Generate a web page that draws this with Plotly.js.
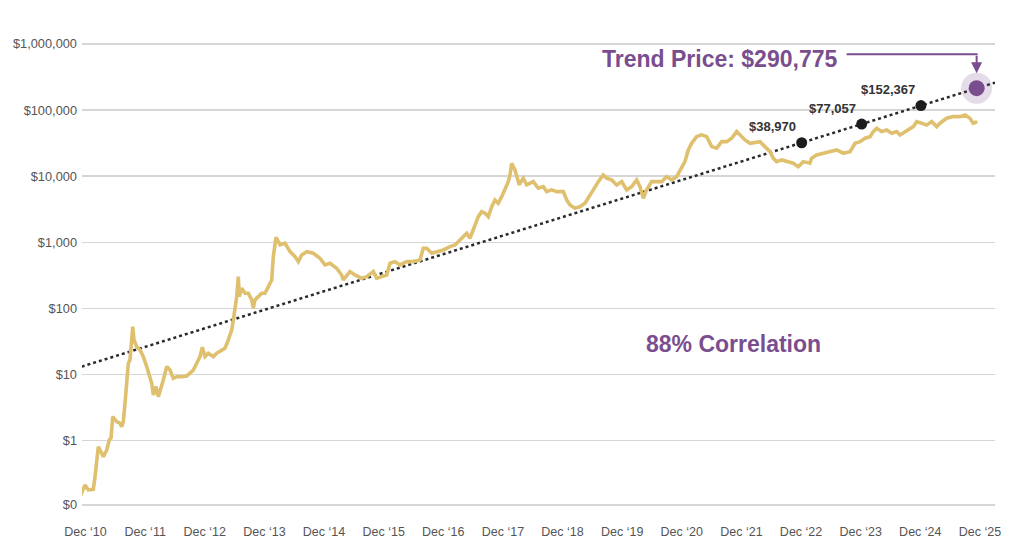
<!DOCTYPE html>
<html>
<head>
<meta charset="utf-8">
<script src="https://cdn.plot.ly/plotly-3.0.1.min.js"></script>
<style>
  html, body { margin: 0; padding: 0; background: #ffffff; }
  #chart { width: 1024px; height: 546px; }
</style>
</head>
<body>
<div id="chart"></div>
<script>
// ---- Data (decimal years, USD prices) ----
const priceYears = [
  2010.825, 2010.909, 2010.964, 2011.048, 2011.076, 2011.105, 2011.132, 2011.160, 2011.216, 2011.273,
  2011.316, 2011.345, 2011.373, 2011.440, 2011.496, 2011.524, 2011.551, 2011.579, 2011.608, 2011.635,
  2011.663, 2011.692, 2011.709, 2011.730, 2011.776, 2011.831, 2011.886, 2011.943, 2011.987, 2012.027,
  2012.054, 2012.099, 2012.138, 2012.178, 2012.222, 2012.279, 2012.334, 2012.389, 2012.446, 2012.530,
  2012.614, 2012.669, 2012.725, 2012.782, 2012.837, 2012.876, 2012.921, 2012.976, 2013.060, 2013.117,
  2013.201, 2013.256, 2013.312, 2013.369, 2013.396, 2013.424, 2013.453, 2013.479, 2013.496, 2013.536,
  2013.592, 2013.647, 2013.704, 2013.731, 2013.759, 2013.815, 2013.872, 2013.927, 2013.983, 2014.040,
  2014.066, 2014.112, 2014.179, 2014.263, 2014.347, 2014.431, 2014.486, 2014.543, 2014.627, 2014.737,
  2014.849, 2014.933, 2015.017, 2015.129, 2015.213, 2015.240, 2015.352, 2015.437, 2015.549, 2015.633,
  2015.744, 2015.800, 2015.884, 2015.968, 2016.024, 2016.107, 2016.191, 2016.304, 2016.414, 2016.526,
  2016.582, 2016.639, 2016.723, 2016.806, 2016.917, 2017.030, 2017.113, 2017.197, 2017.253, 2017.310,
  2017.365, 2017.420, 2017.504, 2017.561, 2017.617, 2017.672, 2017.729, 2017.784, 2017.839, 2017.897,
  2017.952, 2018.007, 2018.036, 2018.064, 2018.119, 2018.192, 2018.203, 2018.259, 2018.316, 2018.427,
  2018.510, 2018.594, 2018.651, 2018.735, 2018.819, 2018.930, 2018.987, 2019.042, 2019.126, 2019.210,
  2019.293, 2019.349, 2019.433, 2019.517, 2019.600, 2019.657, 2019.741, 2019.825, 2019.909, 2019.993,
  2020.077, 2020.161, 2020.216, 2020.272, 2020.328, 2020.412, 2020.496, 2020.580, 2020.664, 2020.747,
  2020.831, 2020.915, 2020.970, 2021.026, 2021.083, 2021.167, 2021.250, 2021.334, 2021.418, 2021.502,
  2021.586, 2021.670, 2021.754, 2021.837, 2021.893, 2021.977, 2022.061, 2022.173, 2022.228, 2022.312,
  2022.396, 2022.451, 2022.508, 2022.592, 2022.676, 2022.787, 2022.870, 2022.954, 2023.066, 2023.095,
  2023.179, 2023.290, 2023.402, 2023.515, 2023.627, 2023.739, 2023.823, 2023.907, 2023.991, 2024.075,
  2024.128, 2024.185, 2024.269, 2024.353, 2024.437, 2024.521, 2024.576, 2024.660, 2024.716, 2024.800,
  2024.857, 2024.940, 2025.024, 2025.108, 2025.192, 2025.247, 2025.359, 2025.470, 2025.582, 2025.666,
  2025.750, 2025.805, 2025.872
];
const priceValues = [
  0.142, 0.214, 0.180, 0.184, 0.285, 0.455, 0.811, 0.723, 0.573, 0.723,
  1.03, 1.10, 2.31, 1.94, 1.83, 1.63, 1.94, 3.68, 6.56, 14.8,
  16.6, 29.8, 53.1, 33.4, 26.4, 23.6, 18.7, 13.2, 9.29, 7.38,
  4.91, 6.56, 4.63, 5.85, 8.28, 13.2, 11.7, 8.79, 9.29, 9.29,
  9.53, 10.5, 11.7, 14.8, 18.7, 25.9, 18.7, 21.0, 18.7, 21.0,
  23.6, 25.0, 33.4, 47.3, 67.0, 94.9, 151, 303, 151, 202,
  170, 170, 135, 101, 135, 151, 170, 170, 214, 270,
  608, 1194, 914, 969, 723, 608, 511, 645, 723, 684,
  574, 455, 483, 406, 321, 270, 361, 321, 286, 303,
  361, 286, 303, 321, 483, 511, 455, 511, 511, 542,
  815, 815, 684, 723, 767, 861, 914, 1087, 1219, 1374,
  1153, 1542, 2449, 2911, 2754, 2449, 3467, 4375, 3908, 4909,
  6209, 8279, 10470, 15740, 12450, 7380, 7834, 9333, 7380, 8279,
  6577, 6966, 5848, 6209, 5848, 5848, 4375, 3681, 3281, 3467,
  3908, 4645, 6209, 8279, 10470, 9333, 8790, 7380, 8279, 6209,
  6966, 8790, 6966, 4645, 6209, 8279, 8279, 8279, 9863, 8790,
  9863, 13960, 16630, 25000, 31550, 39720, 42170, 39720, 28050, 26550,
  33340, 33340, 37580, 47320, 42170, 35400, 31550, 33340, 33340, 28050,
  23550, 18710, 16630, 17660, 16630, 15740, 13960, 16630, 15740, 18710,
  20990, 22280, 23550, 25000, 22280, 23550, 31550, 33340, 37580, 39720,
  47320, 53210, 47320, 50120, 44670, 47320, 42170, 47320, 50120, 56230,
  66990, 63390, 59700, 66990, 56230, 63390, 75340, 79800, 79800, 84530,
  75340, 63390, 66990
];

const trendYears = [2010.853, 2026.170];
const trendValues = [13.2, 260600];

const markerYears = [2022.928, 2023.934, 2024.928];
const markerValues = [32100, 61600, 117000];
const markerLabels = ['$38,970', '$77,057', '$152,367'];

const targetYear = 2025.862;
const targetValue = 214500;
const targetLabel = 'Trend Price: $290,775';
const correlationLabel = '88% Correlation';

const yTickVals = [0.107, 1, 10, 100, 1000, 10000, 100000, 1000000];
const yTickText = ['$0', '$1', '$10', '$100', '$1,000', '$10,000', '$100,000', '$1,000,000'];
const xTickVals = [2010.917, 2011.917, 2012.917, 2013.917, 2014.917, 2015.917, 2016.917, 2017.917,
                   2018.917, 2019.917, 2020.917, 2021.917, 2022.917, 2023.917, 2024.917, 2025.917];
const xTickText = ['Dec \u201810', 'Dec \u201811', 'Dec \u201812', 'Dec \u201813', 'Dec \u201814', 'Dec \u201815',
                   'Dec \u201816', 'Dec \u201817', 'Dec \u201818', 'Dec \u201819', 'Dec \u201820', 'Dec \u201821',
                   'Dec \u201822', 'Dec \u201823', 'Dec \u201824', 'Dec \u201825'];

// ---- Styling ----
const GOLD = '#dfc06e';
const PURPLE = '#7a4e8e';
const DARK = '#2a2a2a';
const FONT = 'Liberation Sans, Arial, Helvetica, sans-serif';

const traces = [
  {
    x: trendYears, y: trendValues, type: 'scatter', mode: 'lines',
    line: { color: DARK, width: 2.5, dash: 'dot' }, hoverinfo: 'skip'
  },
  {
    x: priceYears, y: priceValues, type: 'scatter', mode: 'lines',
    line: { color: GOLD, width: 3.6 }, hoverinfo: 'skip'
  },
  {
    x: markerYears, y: markerValues, type: 'scatter', mode: 'markers',
    marker: { color: '#1c1c1c', size: 11 }, hoverinfo: 'skip'
  },
  {
    x: [targetYear], y: [targetValue], type: 'scatter', mode: 'markers',
    marker: { color: 'rgba(122,78,142,0.2)', size: 31 }, hoverinfo: 'skip'
  },
  {
    x: [targetYear], y: [targetValue], type: 'scatter', mode: 'markers',
    marker: { color: PURPLE, size: 16 }, hoverinfo: 'skip'
  }
];

const annotations = markerLabels.map((t, i) => ({
  x: markerYears[i], y: Math.log10(markerValues[i]), xref: 'x', yref: 'y',
  text: '<b>' + t + '</b>', showarrow: false,
  xanchor: 'right', yanchor: 'middle', xshift: -4, yshift: 16,
  font: { family: FONT, size: 13, color: '#333333' }
}));

annotations.push({
  x: targetYear, y: Math.log10(targetValue), xref: 'x', yref: 'y',
  text: '<b>' + targetLabel + '</b>', showarrow: false,
  xanchor: 'right', yanchor: 'middle', xshift: -138, yshift: 29,
  font: { family: FONT, size: 23, color: PURPLE }
});
annotations.push({
  x: targetYear, y: Math.log10(targetValue), xref: 'x', yref: 'y',
  text: '', showarrow: true, ax: 0, ay: -34, axref: 'pixel', ayref: 'pixel',
  arrowhead: 2, arrowsize: 1.1, arrowwidth: 2, arrowcolor: PURPLE, standoff: 15
});
annotations.push({
  x: 0.714, y: 0.341, xref: 'paper', yref: 'paper',
  text: '<b>' + correlationLabel + '</b>', showarrow: false,
  xanchor: 'center', yanchor: 'middle',
  font: { family: FONT, size: 23, color: PURPLE }
});

const shapes = [
  {
    type: 'line', layer: 'above',
    xref: 'x', xsizemode: 'pixel', xanchor: targetYear, x0: -130, x1: 1,
    yref: 'y', ysizemode: 'pixel', yanchor: targetValue, y0: 34, y1: 34,
    line: { color: PURPLE, width: 2 }
  },
  {
    type: 'line', layer: 'below',
    xref: 'paper', x0: 0.027, x1: 0.9705,
    yref: 'y', y0: Math.log10(0.273), y1: Math.log10(0.273),
    line: { color: '#eee6e6', width: 1.5 }
  }
];

const layout = {
  width: 1024, height: 546,
  margin: { l: 82, r: 29, t: 20, b: 34 },
  paper_bgcolor: '#ffffff', plot_bgcolor: '#ffffff',
  showlegend: false,
  font: { family: FONT, size: 12.5, color: '#555555' },
  xaxis: {
    type: 'linear', range: [2010.858, 2026.170],
    tickvals: xTickVals, ticktext: xTickText,
    showgrid: false, zeroline: false, showline: false, ticks: '',
    ticklabelstandoff: 10,
    tickfont: { family: FONT, size: 12.5, color: '#555555' }
  },
  yaxis: {
    type: 'log', range: [-1.0787, 6.363],
    tickvals: yTickVals, ticktext: yTickText,
    showgrid: true, gridcolor: '#d6d6d6', gridwidth: 1.6,
    zeroline: false, showline: false, ticks: '',
    ticklabelstandoff: 4,
    tickfont: { family: FONT, size: 12.8, color: '#555555' }
  },
  annotations: annotations,
  shapes: shapes
};

Plotly.newPlot('chart', traces, layout, { staticPlot: true, displayModeBar: false });
</script>
</body>
</html>
